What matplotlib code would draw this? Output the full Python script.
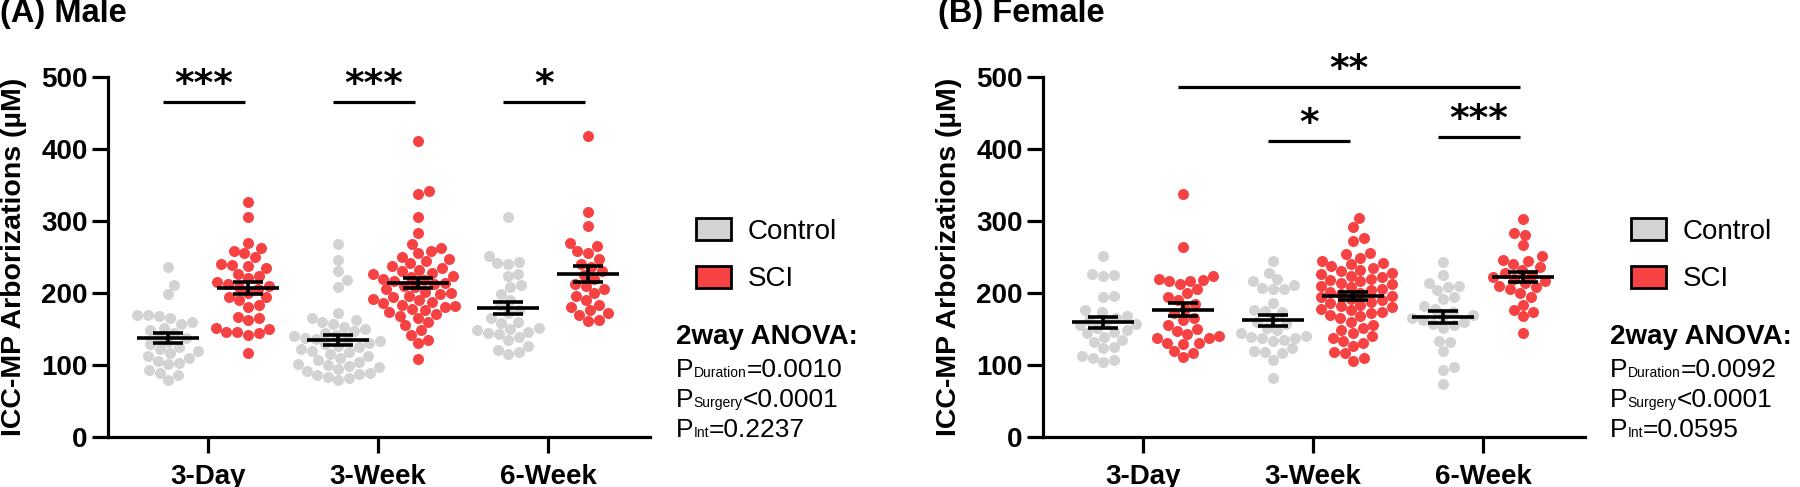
import numpy as np
import matplotlib
matplotlib.use("Agg")
import matplotlib.pyplot as plt
from matplotlib.patches import Patch

plt.rcParams['font.family'] = ['Liberation Sans', 'DejaVu Sans']

# groups / legend
groups = ['3-Day', '3-Week', '6-Week']
series = ['Control', 'SCI']
colors = ['#D3D3D3', '#F64242']

# male values (uM)
male_ctrl = [
    [236, 211, 198, 170, 170, 168, 165, 160, 157, 152, 149, 145, 139, 137, 132,
     129, 125, 122, 119, 116, 113, 110, 106, 103, 101, 93, 89, 86, 79],
    [268, 246, 230, 218, 209, 172, 162, 165, 160, 157, 153, 150, 147, 145, 142,
     140, 138, 136, 135, 133, 131, 129, 127, 125, 122, 120, 118, 115, 112, 110,
     107, 104, 101, 99, 97, 95, 92, 89, 86, 84, 79, 100, 88, 82],
    [305, 251, 243, 241, 240, 227, 224, 211, 209, 199, 190, 183, 176, 172, 165,
     160, 158, 152, 150, 148, 146, 145, 143, 139, 135, 126, 121, 118, 115],
]
male_sci = [
    [326, 305, 270, 263, 259, 255, 250, 240, 239, 238, 235, 226, 224, 221, 215,
     213, 210, 208, 205, 200, 195, 194, 190, 183, 181, 167, 165, 162, 151, 150,
     146, 146, 145, 142, 116],
    [411, 342, 338, 306, 284, 268, 262, 258, 255, 250, 247, 244, 241, 238, 235,
     232, 230, 228, 226, 224, 222, 220, 218, 216, 214, 212, 210, 208, 205, 202,
     200, 198, 196, 194, 192, 190, 188, 186, 184, 182, 180, 178, 176, 174, 171,
     168, 165, 160, 155, 148, 142, 135, 130, 108],
    [418, 312, 293, 265, 270, 258, 256, 247, 240, 236, 230, 225, 220, 212, 210,
     205, 200, 196, 190, 184, 180, 176, 172, 170, 163, 161],
]

# female values (uM)
female_ctrl = [
    [251, 226, 225, 223, 196, 194, 176, 174, 168, 165, 162, 160, 157, 155, 151,
     149, 146, 144, 139, 135, 132, 125, 123, 112, 110, 107, 104],
    [245, 228, 219, 216, 211, 207, 206, 205, 186, 176, 175, 174, 165, 160, 157,
     152, 148, 144, 140, 139, 138, 137, 135, 134, 123, 119, 118, 116, 107, 82],
    [243, 225, 214, 210, 208, 204, 195, 191, 182, 178, 174, 170, 168, 165, 163,
     160, 157, 155, 152, 134, 132, 120, 97, 93, 74],
]
female_sci = [
    [338, 264, 224, 220, 218, 217, 217, 212, 205, 200, 195, 190, 185, 178, 172,
     165, 163, 156, 150, 147, 143, 140, 138, 137, 131, 130, 129, 119, 117, 111],
    [304, 291, 276, 272, 256, 254, 248, 245, 242, 240, 237, 235, 232, 230, 228,
     226, 224, 222, 220, 218, 216, 214, 212, 210, 208, 206, 204, 202, 200, 198,
     196, 194, 192, 190, 188, 186, 184, 182, 180, 178, 176, 174, 172, 170, 168,
     165, 160, 156, 152, 148, 145, 140, 137, 133, 131, 126, 118, 116, 110, 106],
    [303, 283, 281, 266, 251, 246, 245, 240, 236, 232, 228, 225, 222, 220, 217,
     214, 210, 208, 206, 200, 195, 184, 176, 173, 168, 145],
]

# significance: (from (group, series), to (group, series), stars, bar height)
male_sig = [((0, 0), (0, 1), '***', 465),
            ((1, 0), (1, 1), '***', 465),
            ((2, 0), (2, 1), '*', 465)]
female_sig = [((0, 1), (2, 1), '**', 486),
              ((1, 0), (1, 1), '*', 411),
              ((2, 0), (2, 1), '***', 416)]

male_p = ['=0.0010', '<0.0001', '=0.2237']
female_p = ['=0.0092', '<0.0001', '=0.0595']
p_names = ['Duration', 'Surgery', 'Int']

W, H = 1800, 487
fig = plt.figure(figsize=(W / 100, H / 100), dpi=100)

OFF = 0.235
DOT = 11  # px


def swarm(vals, sx, sy, d=DOT):
    ys = np.asarray(vals, float) * sy
    xs = np.zeros(len(ys))
    placed = []
    for i in np.argsort(ys):
        y = ys[i]
        cands = [0.0]
        for px, py in placed:
            dy = y - py
            if abs(dy) < d:
                dx = np.sqrt(d * d - dy * dy)
                cands += [px + dx, px - dx]
        cands.sort(key=abs)
        for c in cands:
            if all((c - px) ** 2 + (y - py) ** 2 >= d * d - 1e-6 for px, py in placed):
                break
        xs[i] = c
        placed.append((c, y))
    return xs / sx


def panel(ax, ctrl, sci, sigs):
    ax.set_xlim(-0.588, 2.6)
    ax.set_ylim(0, 500)
    p0 = ax.transData.transform((0, 0))
    p1 = ax.transData.transform((1, 1))
    sx, sy = p1[0] - p0[0], p1[1] - p0[1]
    for i in range(3):
        for j, vals in enumerate((ctrl[i], sci[i])):
            xc = i + (j * 2 - 1) * OFF
            ax.scatter(xc + swarm(vals, sx, sy), vals, s=63, color=colors[j],
                       linewidths=0, zorder=2, clip_on=False)
            m = np.mean(vals)
            se = np.std(vals, ddof=1) / np.sqrt(len(vals))
            kw = dict(color='k', lw=2.6, zorder=3, solid_capstyle='butt')
            ax.plot([xc - 0.18, xc + 0.18], [m, m], **kw)
            ax.plot([xc - 0.088, xc + 0.088], [m + se, m + se], **kw)
            ax.plot([xc - 0.088, xc + 0.088], [m - se, m - se], **kw)
            ax.plot([xc, xc], [m - se, m + se], **kw)
    for (g1, s1), (g2, s2), stars, yb in sigs:
        x1 = g1 + (s1 * 2 - 1) * OFF - 0.03
        x2 = g2 + (s2 * 2 - 1) * OFF - 0.02
        ax.plot([x1, x2], [yb, yb], color='k', lw=2.3, clip_on=False,
                solid_capstyle='butt')
        ax.text((x1 + x2) / 2, yb - 1, stars, ha='center', va='bottom',
                fontsize=27, fontweight='bold', family='DejaVu Sans')
    ax.spines[['top', 'right']].set_visible(False)
    ax.spines[['left', 'bottom']].set_linewidth(2.3)
    ax.set_yticks(range(0, 501, 100))
    ax.set_xticks(range(3))
    ax.set_xticklabels(groups)
    ax.tick_params(axis='both', length=11.5, width=2.3, labelsize=20)
    ax.tick_params(axis='y', pad=3)
    ax.tick_params(axis='x', pad=8)
    for lab in ax.get_xticklabels() + ax.get_yticklabels():
        lab.set_fontweight('bold')
    ax.set_ylabel('ICC-MP Arborizations (µM)', fontsize=20.5, fontweight='bold')
    ax.yaxis.set_label_coords(-0.15, 0.5)


def side_text(x, pvals):
    r = fig.canvas.get_renderer()
    fig.text(x / W, 1 - 344 / H, '2way ANOVA:', fontsize=20, fontweight='bold',
             va='baseline')
    for k, (name, pv) in enumerate(zip(p_names, pvals)):
        xx = x
        yb = 1 - (377 + 30 * k) / H
        for s, fs in (('P', 19), (name, 10), (pv, 19)):
            t = fig.text(xx / W, yb, s, fontsize=fs, va='baseline')
            xx = t.get_window_extent(r).x1


axL = fig.add_axes([108 / W, 50 / H, 542 / W, 360 / H])
axR = fig.add_axes([1043 / W, 50 / H, 542 / W, 360 / H])
panel(axL, male_ctrl, male_sci, male_sig)
panel(axR, female_ctrl, female_sci, female_sig)

fig.text(0, 1.005, '(A) Male', fontsize=23.5, fontweight='bold', va='top')
fig.text(938 / W, 1.005, '(B) Female', fontsize=23.5, fontweight='bold', va='top')

handles = [Patch(facecolor=c, edgecolor='k', linewidth=2) for c in colors]
for x in (696, 1631):
    fig.legend(handles, series, loc='upper left', bbox_to_anchor=(x / W, 1 - 218 / H),
               frameon=False, fontsize=20, handlelength=1.25, handleheight=0.85,
               handletextpad=0.6, labelspacing=0.75, borderpad=0, borderaxespad=0)

side_text(676, male_p)
side_text(1610, female_p)

fig.savefig('out.png', dpi=100)
